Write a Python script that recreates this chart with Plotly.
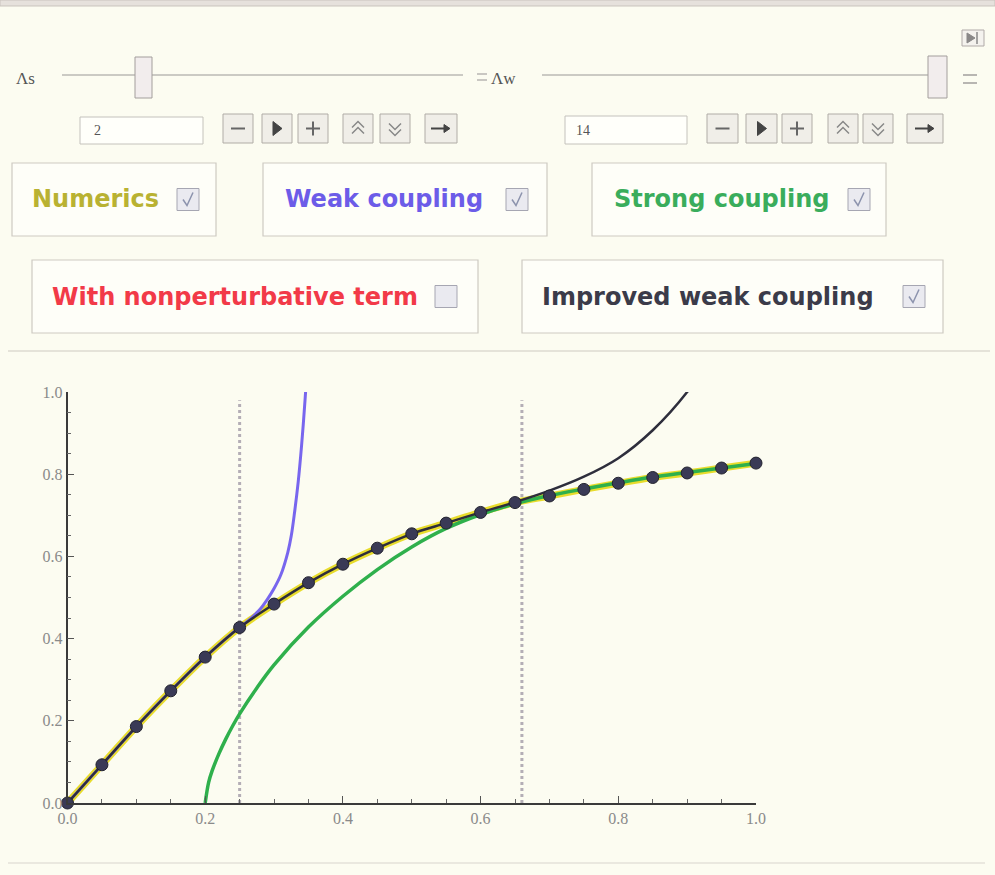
import plotly.graph_objects as go

W, H = 995, 875

# ---------------- data ----------------
x_num = [0.00, 0.05, 0.10, 0.15, 0.20, 0.25, 0.30, 0.35, 0.40, 0.45, 0.50,
         0.55, 0.60, 0.65, 0.70, 0.75, 0.80, 0.85, 0.90, 0.95, 1.00]
y_num = [0.000, 0.093, 0.186, 0.273, 0.355, 0.427, 0.484, 0.536, 0.581, 0.620, 0.655,
         0.681, 0.707, 0.731, 0.747, 0.763, 0.778, 0.792, 0.803, 0.815, 0.827]

x_weak = [0.00, 0.05, 0.10, 0.15, 0.20, 0.25, 0.26, 0.27, 0.28, 0.29, 0.30,
          0.31, 0.32, 0.325, 0.33, 0.335, 0.34, 0.345, 0.348]
y_weak = [0.000, 0.093, 0.186, 0.273, 0.355, 0.428, 0.440, 0.455, 0.472, 0.495, 0.522,
          0.556, 0.610, 0.650, 0.710, 0.780, 0.870, 0.980, 1.060]

x_strong = [0.200, 0.205, 0.21, 0.22, 0.23, 0.24, 0.25, 0.275, 0.30, 0.35, 0.40,
            0.45, 0.50, 0.55, 0.60, 0.65, 0.70, 0.75, 0.80, 0.85, 0.90, 0.95, 1.00]
y_strong = [0.000, 0.050, 0.078, 0.120, 0.156, 0.188, 0.217, 0.280, 0.336, 0.428, 0.503,
            0.568, 0.623, 0.668, 0.702, 0.728, 0.748, 0.764, 0.779, 0.793, 0.804, 0.815, 0.826]

x_impr = [0.00, 0.05, 0.10, 0.15, 0.20, 0.25, 0.30, 0.35, 0.40, 0.45, 0.50,
          0.55, 0.60, 0.65, 0.70, 0.75, 0.80, 0.85, 0.90, 0.92]
y_impr = [0.000, 0.093, 0.186, 0.273, 0.355, 0.427, 0.484, 0.536, 0.581, 0.620, 0.655,
          0.681, 0.707, 0.732, 0.760, 0.794, 0.839, 0.907, 1.000, 1.050]

x_bounds = [0.25, 0.66]
bound_top = 0.98

tick_vals = [0.0, 0.2, 0.4, 0.6, 0.8, 1.0]
tick_text = ["0.0", "0.2", "0.4", "0.6", "0.8", "1.0"]

slider_labels = ["Λs", "Λw"]
slider_values = ["2", "14"]
checkbox_labels = ["Numerics", "Weak coupling", "Strong coupling",
                   "With nonperturbative term", "Improved weak coupling"]
checkbox_states = [True, True, True, False, True]
checkbox_colors = ["#b9b232", "#6c5ce8", "#3aad5c", "#f23a48", "#3b3b49"]

BG = "#fcfcf1"

# ---------------- helpers (pixel -> paper) ----------------
def X(px):
    return px / W

def Y(py):
    return 1 - py / H

shapes = []
annotations = []

def rect(x0, y0, x1, y1, line="#c8c4bc", fill="rgba(0,0,0,0)", width=1):
    shapes.append(dict(type="rect", xref="paper", yref="paper",
                       x0=X(x0), x1=X(x1), y0=Y(y1), y1=Y(y0),
                       line=dict(color=line, width=width), fillcolor=fill, layer="below"))

def hline(x0, x1, y, color="#999", width=1):
    shapes.append(dict(type="line", xref="paper", yref="paper",
                       x0=X(x0), x1=X(x1), y0=Y(y), y1=Y(y),
                       line=dict(color=color, width=width), layer="below"))

def path(pts, color="#555", width=1.5, fill=None, close=False):
    d = "M " + " L ".join(f"{X(a):.5f},{Y(b):.5f}" for a, b in pts)
    if close:
        d += " Z"
    shapes.append(dict(type="path", xref="paper", yref="paper", path=d,
                       line=dict(color=color, width=width),
                       fillcolor=fill if fill else "rgba(0,0,0,0)", layer="above"))

def text(px, py, s, size=14, color="#555", family="Liberation Serif",
         anchor="left", weight="normal"):
    annotations.append(dict(x=X(px), y=Y(py), xref="paper", yref="paper", text=s,
                            showarrow=False, xanchor=anchor, yanchor="middle",
                            font=dict(size=size, color=color, family=family, weight=weight)))

# ---------------- UI chrome ----------------
rect(0, 0, 995, 6, line="#c9c3bd", fill="#e6e1dc")
hline(8, 990, 351, color="#dedbd0", width=1.5)
hline(8, 985, 863, color="#e4e2d8", width=1.5)

# top right icon
rect(962, 30, 984, 46, line="#b0aaa8", fill="#f4f2ee")
path([(967, 33), (975, 38), (967, 43)], color="#8a8888", width=1, fill="#8a8888", close=True)
path([(977, 32), (977, 44)], color="#8a8888", width=1.5)

# slider 1
text(14, 78, slider_labels[0], size=17, color="#555")
hline(62, 463, 75, color="#9a9896", width=1)
rect(135, 57, 152, 98, line="#a39e9c", fill="#f2eded")
# slider toggle icon + slider 2 label
hline(477, 487, 74, color="#b8b6b2", width=1.5)
hline(477, 487, 80, color="#b8b6b2", width=1.5)
text(489, 78, slider_labels[1], size=17, color="#555")
hline(542, 930, 75, color="#9a9896", width=1)
rect(928, 56, 947, 98, line="#a39e9c", fill="#f2eded")
hline(963, 977, 75, color="#b8b6b2", width=2)
hline(963, 977, 83, color="#b8b6b2", width=2)

# input fields
rect(80, 117, 203, 144, line="#c4c2bc", fill="#fffffa")
text(92, 131, slider_values[0], size=14, color="#555")
rect(565, 116, 687, 144, line="#c4c2bc", fill="#fffffa")
text(574, 131, slider_values[1], size=14, color="#555")

def buttons(xs, y0=114, y1=143):
    for i, (a, b) in enumerate(xs):
        rect(a, y0, b, y1, line="#b0aca6", fill="#f0eee8")
        cx, cy = (a + b) / 2, (y0 + y1) / 2
        if i == 0:
            path([(cx - 7, cy), (cx + 7, cy)], color="#666", width=2)
        elif i == 1:
            path([(cx - 4, cy - 7), (cx + 5, cy), (cx - 4, cy + 7)],
                 color="#444", width=1, fill="#444", close=True)
        elif i == 2:
            path([(cx - 7, cy), (cx + 7, cy)], color="#666", width=2)
            path([(cx, cy - 7), (cx, cy + 7)], color="#666", width=2)
        elif i == 3:
            path([(cx - 6, cy - 1), (cx, cy - 7), (cx + 6, cy - 1)], color="#888", width=1.5)
            path([(cx - 6, cy + 5), (cx, cy - 1), (cx + 6, cy + 5)], color="#888", width=1.5)
        elif i == 4:
            path([(cx - 6, cy - 5), (cx, cy + 1), (cx + 6, cy - 5)], color="#888", width=1.5)
            path([(cx - 6, cy + 1), (cx, cy + 7), (cx + 6, cy + 1)], color="#888", width=1.5)
        else:
            path([(cx - 10, cy), (cx + 8, cy)], color="#444", width=2)
            path([(cx + 3, cy - 4), (cx + 9, cy), (cx + 3, cy + 4)],
                 color="#444", width=1, fill="#444", close=True)

buttons([(223, 253), (262, 292), (298, 328), (343, 373), (380, 410), (425, 457)])
buttons([(707, 738), (746, 777), (782, 812), (828, 858), (863, 893), (907, 943)])

# checkbox group boxes
groups = [
    (12, 163, 216, 236, 30, 177),
    (263, 163, 547, 236, 283, 506),
    (592, 163, 886, 236, 612, 848),
    (32, 260, 478, 333, 50, 435),
    (522, 260, 943, 333, 540, 903),
]
for (gx0, gy0, gx1, gy1, tx, cbx), lab, st, col in zip(groups, checkbox_labels,
                                                        checkbox_states, checkbox_colors):
    rect(gx0, gy0, gx1, gy1, line="#cdcac2", fill="#fefef8", width=1.2)
    cy = (gy0 + gy1) / 2
    text(tx, cy, lab, size=24, color=col, family="DejaVu Sans", weight="bold")
    rect(cbx, cy - 11, cbx + 22, cy + 11, line="#a6a6b2", fill="#eaeaf0")
    if st:
        path([(cbx + 6, cy), (cbx + 10, cy + 6), (cbx + 16, cy - 7)], color="#8c93ad", width=1.5)

# ---------------- plot ----------------
fig = go.Figure()

for xb in x_bounds:
    fig.add_trace(go.Scatter(x=[xb, xb], y=[0, bound_top], mode="lines",
                             line=dict(color="#b4aeb6", width=3, dash="dot"),
                             hoverinfo="skip", showlegend=False))

fig.add_trace(go.Scatter(x=x_num, y=y_num, mode="lines", line_shape="spline",
                         line=dict(color="#e8dc2c", width=7), showlegend=False))
fig.add_trace(go.Scatter(x=x_weak, y=y_weak, mode="lines", line_shape="spline",
                         line=dict(color="#7866ee", width=3), showlegend=False))
fig.add_trace(go.Scatter(x=x_strong, y=y_strong, mode="lines", line_shape="spline",
                         line=dict(color="#2fb04c", width=3.5), showlegend=False))
fig.add_trace(go.Scatter(x=x_impr, y=y_impr, mode="lines", line_shape="spline",
                         line=dict(color="#2e2e3c", width=2.5), showlegend=False))
fig.add_trace(go.Scatter(x=x_num, y=y_num, mode="markers",
                         marker=dict(color="#3a3a56", size=12,
                                     line=dict(color="#23232f", width=1)),
                         cliponaxis=False, showlegend=False))

axis_common = dict(
    range=[0, 1], showgrid=False, zeroline=False, automargin=False,
    showline=True, linecolor="#3a3a3a", linewidth=1.5,
    ticks="inside", ticklen=7, tickwidth=1, tickcolor="#555",
    tickvals=tick_vals, ticktext=tick_text,
    minor=dict(ticks="inside", ticklen=4, dtick=0.05, tick0=0, tickcolor="#666", tickwidth=1),
    tickfont=dict(family="Liberation Serif", size=16, color="#8a8a8a"),
    fixedrange=True,
)

fig.update_layout(
    width=W, height=H, autosize=False,
    margin=dict(l=0, r=0, t=0, b=0, pad=0),
    paper_bgcolor=BG, plot_bgcolor=BG,
    xaxis=dict(domain=[67.5 / W, 756 / W], anchor="y", **axis_common),
    yaxis=dict(domain=[(H - 803) / H, (H - 392) / H], anchor="x", **axis_common),
    shapes=shapes, annotations=annotations,
    showlegend=False,
)

fig.write_html("out.html", config={"displayModeBar": False},
               post_script="document.body.style.margin='0';document.body.style.overflow='hidden';")
